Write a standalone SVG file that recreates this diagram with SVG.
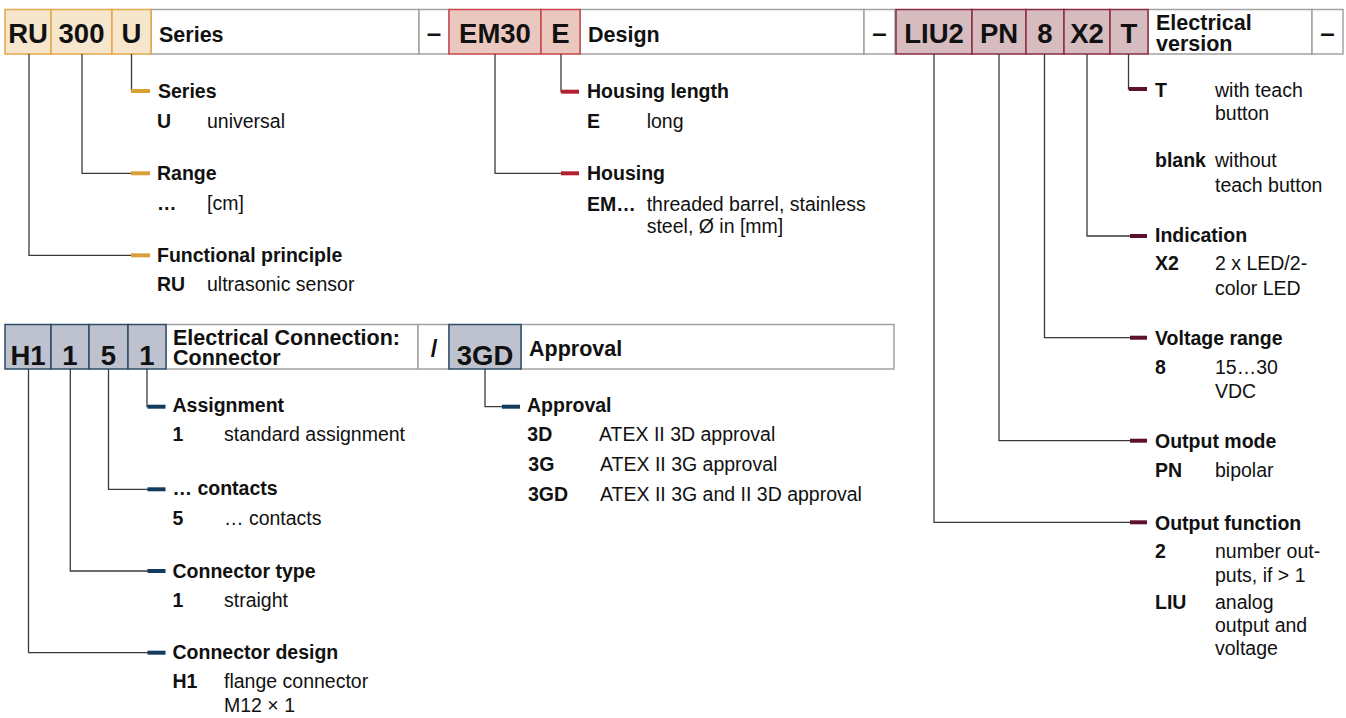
<svg xmlns="http://www.w3.org/2000/svg" width="1346" height="718" viewBox="0 0 1346 718">
<style>
text{font-family:"Liberation Sans",Arial,sans-serif;fill:#111}
.code{font-size:27.5px;font-weight:bold;text-anchor:middle}
.hd{font-size:21.5px;font-weight:bold}
.sep{font-size:26px;font-weight:bold;text-anchor:middle}
.sl{font-size:24px;font-weight:bold;text-anchor:middle}
.lb{font-size:19.5px;font-weight:bold}
.tx{font-size:19.5px}
.hcell{fill:#fff;stroke:#a2a2a2;stroke-width:1.5}
.or{fill:#f6e6cb;stroke:#e2a84c;stroke-width:1.5}
.rd{fill:#ebc8bf;stroke:#c8464b;stroke-width:1.5}
.mr{fill:#d6bbbf;stroke:#8a2c45;stroke-width:1.5}
.nv{fill:#bec2ce;stroke:#2c4c69;stroke-width:1.5}
.ln{fill:none;stroke:#3a3a3a;stroke-width:1.3}
.t-or{stroke:#d9a037;stroke-width:4}
.t-rd{stroke:#b5202e;stroke-width:4}
.t-mr{stroke:#5f0f2f;stroke-width:4}
.t-nv{stroke:#123b5c;stroke-width:4}
</style>

<!-- top code row -->
<g id="hdr-series">
<rect class="hcell" x="151" y="9.5" width="268" height="44.5"/>
<text class="hd" x="159" y="41.5">Series</text>
<rect class="hcell" x="419" y="9.5" width="30" height="44.5"/>
<text class="sep" x="434" y="41.5">–</text>
</g>
<g id="hdr-design">
<rect class="hcell" x="580" y="9.5" width="284" height="44.5"/>
<text class="hd" x="588" y="41.5">Design</text>
<rect class="hcell" x="864" y="9.5" width="31" height="44.5"/>
<text class="sep" x="879.5" y="41.5">–</text>
</g>
<g id="hdr-electrical">
<rect class="hcell" x="1148" y="9.5" width="164" height="44.5"/>
<text class="hd" x="1156" y="30">Electrical<tspan x="1156" y="50.5">version</tspan></text>
<rect class="hcell" x="1312" y="9.5" width="31" height="44.5"/>
<text class="sep" x="1327.5" y="41.5">–</text>
</g>
<g id="code-RU"><rect class="or" x="5" y="9.5" width="46" height="44.5"/><text class="code" x="28" y="43.3">RU</text></g>
<g id="code-300"><rect class="or" x="51" y="9.5" width="61" height="44.5"/><text class="code" x="81.5" y="43.3">300</text></g>
<g id="code-U"><rect class="or" x="112" y="9.5" width="39" height="44.5"/><text class="code" x="131.5" y="43.3">U</text></g>
<g id="code-EM30"><rect class="rd" x="449" y="9.5" width="92" height="44.5"/><text class="code" x="495" y="43.3">EM30</text></g>
<g id="code-E"><rect class="rd" x="541" y="9.5" width="39" height="44.5"/><text class="code" x="560.5" y="43.3">E</text></g>
<g id="code-LIU2"><rect class="mr" x="896" y="9.5" width="76" height="44.5"/><text class="code" x="934" y="43.3">LIU2</text></g>
<g id="code-PN"><rect class="mr" x="972" y="9.5" width="54" height="44.5"/><text class="code" x="999" y="43.3">PN</text></g>
<g id="code-8"><rect class="mr" x="1026" y="9.5" width="38" height="44.5"/><text class="code" x="1045" y="43.3">8</text></g>
<g id="code-X2"><rect class="mr" x="1064" y="9.5" width="46" height="44.5"/><text class="code" x="1087" y="43.3">X2</text></g>
<g id="code-T"><rect class="mr" x="1110" y="9.5" width="38" height="44.5"/><text class="code" x="1129" y="43.3">T</text></g>

<!-- bottom code row -->
<g id="hdr-connection">
<rect class="hcell" x="166" y="324.5" width="252" height="44.5"/>
<text class="hd" x="173" y="344.5">Electrical Connection:<tspan x="173" y="365">Connector</tspan></text>
<rect class="hcell" x="418" y="324.5" width="31" height="44.5"/>
<text class="sl" x="434" y="357">/</text>
</g>
<g id="hdr-approval">
<rect class="hcell" x="521" y="324.5" width="373" height="44.5"/>
<text class="hd" x="529" y="355.5">Approval</text>
</g>
<g id="code-H1"><rect class="nv" x="5" y="324.5" width="46" height="44.5"/><text class="code" x="28" y="365">H1</text></g>
<g id="code-1a"><rect class="nv" x="51" y="324.5" width="38" height="44.5"/><text class="code" x="70" y="365">1</text></g>
<g id="code-5"><rect class="nv" x="89" y="324.5" width="39" height="44.5"/><text class="code" x="108.5" y="365">5</text></g>
<g id="code-1b"><rect class="nv" x="128" y="324.5" width="38" height="44.5"/><text class="code" x="147" y="365">1</text></g>
<g id="code-3GD"><rect class="nv" x="449" y="324.5" width="72" height="44.5"/><text class="code" x="485" y="365">3GD</text></g>

<!-- connectors -->
<g id="connectors">
<path class="ln" d="M131.5 54V91H134"/>
<path class="ln" d="M82 54V173.3H134"/>
<path class="ln" d="M29 54V255.3H134"/>
<path class="ln" d="M561 54V91.7H563"/>
<path class="ln" d="M495 54V173.3H563"/>
<path class="ln" d="M1128.5 54V89H1132"/>
<path class="ln" d="M1087 54V236H1132"/>
<path class="ln" d="M1044.5 54V337.7H1132"/>
<path class="ln" d="M999 54V440.7H1132"/>
<path class="ln" d="M934 54V522.3H1132"/>
<path class="ln" d="M147 369V406.7H150"/>
<path class="ln" d="M108.5 369V489.3H150"/>
<path class="ln" d="M70.3 369V571H150"/>
<path class="ln" d="M28.5 369V652.7H150"/>
<path class="ln" d="M485 369V406.7H504"/>
<line class="t-or" x1="131" y1="91" x2="150" y2="91"/>
<line class="t-or" x1="131" y1="173.3" x2="150" y2="173.3"/>
<line class="t-or" x1="131" y1="255.3" x2="150" y2="255.3"/>
<line class="t-rd" x1="561" y1="91.7" x2="579" y2="91.7"/>
<line class="t-rd" x1="561" y1="173.3" x2="579" y2="173.3"/>
<line class="t-mr" x1="1129" y1="89" x2="1147" y2="89"/>
<line class="t-mr" x1="1130" y1="236" x2="1147" y2="236"/>
<line class="t-mr" x1="1130" y1="337.7" x2="1147" y2="337.7"/>
<line class="t-mr" x1="1130" y1="440.7" x2="1147" y2="440.7"/>
<line class="t-mr" x1="1130" y1="522.3" x2="1147" y2="522.3"/>
<line class="t-nv" x1="147.5" y1="406.7" x2="165.5" y2="406.7"/>
<line class="t-nv" x1="147.5" y1="489.3" x2="165.5" y2="489.3"/>
<line class="t-nv" x1="147.5" y1="571" x2="165.5" y2="571"/>
<line class="t-nv" x1="147.5" y1="652.7" x2="165.5" y2="652.7"/>
<line class="t-nv" x1="502" y1="406.7" x2="520" y2="406.7"/>
</g>

<!-- descriptions -->
<g id="desc-series">
<text class="lb" x="158" y="97.7">Series</text>
<text class="lb" x="157" y="128">U</text><text class="tx" x="207" y="128">universal</text>
</g>
<g id="desc-range">
<text class="lb" x="157" y="180">Range</text>
<text class="lb" x="157" y="210">…</text><text class="tx" x="207" y="210">[cm]</text>
</g>
<g id="desc-functional">
<text class="lb" x="157" y="262">Functional principle</text>
<text class="lb" x="157" y="291">RU</text><text class="tx" x="207" y="291">ultrasonic sensor</text>
</g>
<g id="desc-housing-length">
<text class="lb" x="587" y="98.3">Housing length</text>
<text class="lb" x="587" y="128.3">E</text><text class="tx" x="646.7" y="128.3">long</text>
</g>
<g id="desc-housing">
<text class="lb" x="587" y="180">Housing</text>
<text class="lb" x="587" y="210.7">EM…</text><text class="tx" x="646.7" y="210.7">threaded barrel, stainless</text>
<text class="tx" x="646.7" y="233.3">steel, Ø in [mm]</text>
</g>
<g id="desc-teach">
<text class="lb" x="1155" y="97">T</text><text class="tx" x="1215" y="97">with teach</text>
<text class="tx" x="1215" y="119.5">button</text>
<text class="lb" x="1155" y="166.7">blank</text><text class="tx" x="1215" y="166.7">without</text>
<text class="tx" x="1215" y="191.7">teach button</text>
</g>
<g id="desc-indication">
<text class="lb" x="1155" y="242">Indication</text>
<text class="lb" x="1155" y="270">X2</text><text class="tx" x="1215" y="270">2 x LED/2-</text>
<text class="tx" x="1215" y="295">color LED</text>
</g>
<g id="desc-voltage">
<text class="lb" x="1155" y="345">Voltage range</text>
<text class="lb" x="1155" y="374.3">8</text><text class="tx" x="1215" y="374.3">15…30</text>
<text class="tx" x="1215" y="397.7">VDC</text>
</g>
<g id="desc-output-mode">
<text class="lb" x="1155" y="448.3">Output mode</text>
<text class="lb" x="1155" y="476.7">PN</text><text class="tx" x="1215" y="476.7">bipolar</text>
</g>
<g id="desc-output-function">
<text class="lb" x="1155" y="530">Output function</text>
<text class="lb" x="1155" y="558.3">2</text><text class="tx" x="1215" y="558.3">number out-</text>
<text class="tx" x="1215" y="581.7">puts, if &gt; 1</text>
<text class="lb" x="1155" y="609">LIU</text><text class="tx" x="1215" y="609">analog</text>
<text class="tx" x="1215" y="632">output and</text>
<text class="tx" x="1215" y="655">voltage</text>
</g>
<g id="desc-assignment">
<text class="lb" x="172.5" y="412">Assignment</text>
<text class="lb" x="172.5" y="441">1</text><text class="tx" x="224" y="441">standard assignment</text>
</g>
<g id="desc-contacts">
<text class="lb" x="172.5" y="495">… contacts</text>
<text class="lb" x="172.5" y="525">5</text><text class="tx" x="224" y="525">… contacts</text>
</g>
<g id="desc-connector-type">
<text class="lb" x="172.5" y="577.5">Connector type</text>
<text class="lb" x="172.5" y="606.7">1</text><text class="tx" x="224" y="606.7">straight</text>
</g>
<g id="desc-connector-design">
<text class="lb" x="172.5" y="659">Connector design</text>
<text class="lb" x="172.5" y="688.3">H1</text><text class="tx" x="224" y="688.3">flange connector</text>
<text class="tx" x="224" y="711.5">M12 × 1</text>
</g>
<g id="desc-approval">
<text class="lb" x="527" y="412">Approval</text>
<text class="lb" x="527.3" y="441">3D</text><text class="tx" x="599" y="441">ATEX II 3D approval</text>
<text class="lb" x="528.3" y="471">3G</text><text class="tx" x="600" y="471">ATEX II 3G approval</text>
<text class="lb" x="528" y="501">3GD</text><text class="tx" x="600" y="501">ATEX II 3G and II 3D approval</text>
</g>
</svg>
